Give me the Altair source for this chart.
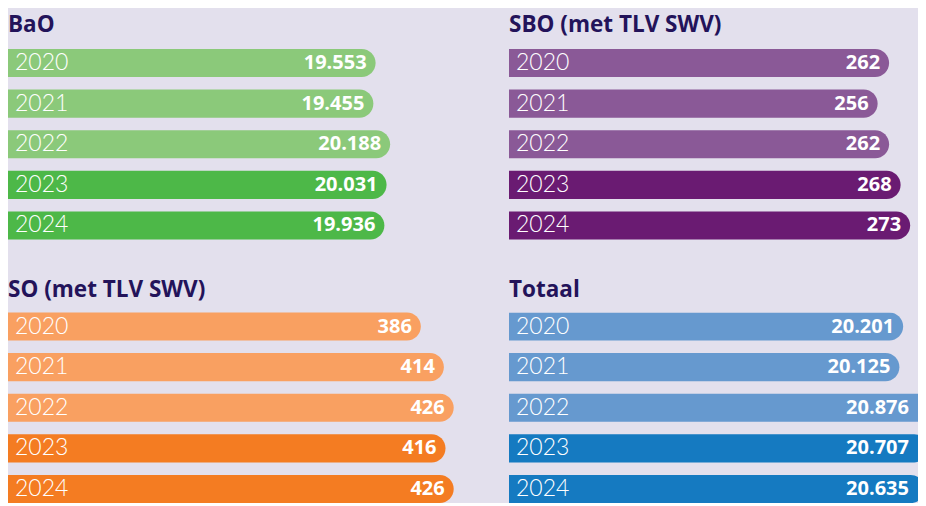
import altair as alt
import pandas as pd

years = [2020, 2021, 2022, 2023, 2024]
bao = [19553, 19455, 20188, 20031, 19936]
sbo = [262, 256, 262, 268, 273]
so = [386, 414, 426, 416, 426]
totaal = [20201, 20125, 20876, 20707, 20635]

titles = ["BaO", "SBO (met TLV SWV)", "SO (met TLV SWV)", "Totaal"]
light_colors = ["#8BC97A", "#8A5997", "#F9A061", "#6699CF"]
dark_colors = ["#4DB848", "#6A1B72", "#F47C22", "#157AC1"]

BG = "#E3E0ED"
TITLE_COLOR = "#23135A"
TITLE_FONT = "Open Sans"
VALUE_FONT = "Open Sans"
YEAR_FONT = "Lato"


def fmt(v):
    return f"{v:,}".replace(",", ".")


def panel(vals, title, light, dark, domain, width, offset, clip=False):
    df = pd.DataFrame({"year": years, "value": vals, "label": [fmt(v) for v in vals]})
    base = alt.Chart(df).transform_calculate(
        labelpos=f"min(datum.value, {domain[1]})"
    )
    y = alt.Y("year:O", axis=None, scale=alt.Scale(paddingInner=0.31, paddingOuter=0))
    xscale = alt.Scale(domain=domain, zero=False, nice=False)
    x = alt.X("value:Q", axis=None, scale=xscale)
    color = alt.condition(alt.datum.year >= 2023, alt.value(dark), alt.value(light))
    bar_kw = dict(cornerRadiusTopRight=14, cornerRadiusBottomRight=14)
    if clip:
        bar_kw["clip"] = True
    bars = base.mark_bar(**bar_kw).encode(
        x=x, x2=alt.datum(domain[0]), y=y, color=color
    )
    yr = base.mark_text(
        align="left", baseline="middle", font=YEAR_FONT, fontSize=23, fontWeight=300,
        color="white"
    ).encode(x=alt.value(7), y=y, text="year:O")
    val = base.mark_text(
        align="right", baseline="middle", dx=-9, font=VALUE_FONT, fontSize=20,
        fontWeight="bold", color="white"
    ).encode(x=alt.X("labelpos:Q", axis=None, scale=xscale), y=y, text="label:N")
    return alt.layer(bars, yr, val).properties(
        width=width,
        height=190.5,
        title=alt.TitleParams(
            title, anchor="start", fontSize=22.5, font=TITLE_FONT, fontWeight="bold",
            color=TITLE_COLOR, offset=offset
        ),
    )


WL = 455
WR = 409
p1 = panel(bao, titles[0], light_colors[0], dark_colors[0], [3500, 3500 + WL / 0.0229], WL, 12.5)
p2 = panel(sbo, titles[1], light_colors[1], dark_colors[1], [63.4, 63.4 + WR / 1.914], WR, 12.5)
p3 = panel(so, titles[2], light_colors[2], dark_colors[2], [-116.5, -116.5 + WL / 0.8216], WL, 11.5)
p4 = panel(totaal, titles[3], light_colors[3], dark_colors[3], [12238, 12238 + WR / 0.0495], WR, 11.5, clip=True)

top = alt.hconcat(p1, p2, spacing=46)
bottom = alt.hconcat(p3, p4, spacing=46)
chart = (
    alt.vconcat(top, bottom, spacing=37.5)
    .properties(background=BG, padding={"top": 5, "left": 0, "right": 0, "bottom": 0})
    .configure_view(stroke=None)
)

chart.save("out.html", embed_options={"renderer": "svg", "actions": False})
